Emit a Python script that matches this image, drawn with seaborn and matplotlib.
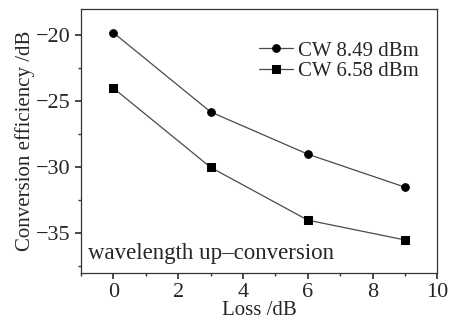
import numpy as np
import pandas as pd
import matplotlib
matplotlib.use("Agg")
import matplotlib.pyplot as plt
import seaborn as sns
from matplotlib.ticker import MultipleLocator

loss = [0, 3, 6, 9]
eff_849 = [-19.8, -25.8, -29.0, -31.5]
eff_658 = [-24.0, -30.0, -34.0, -35.5]
series = ["CW 8.49 dBm", "CW 6.58 dBm"]

df = pd.DataFrame({
    "loss": loss * 2,
    "eff": eff_849 + eff_658,
    "series": [series[0]] * len(loss) + [series[1]] * len(loss),
})

sns.set_theme(style="ticks")
plt.rcParams["font.family"] = ["Liberation Serif", "DejaVu Serif"]

fig, ax = plt.subplots(figsize=(4.58, 3.23), dpi=100)
sns.lineplot(data=df, x="loss", y="eff", hue="series", style="series",
             markers={series[0]: "o", series[1]: "s"}, dashes=False,
             palette={series[0]: "#4a4a4a", series[1]: "#4a4a4a"},
             markersize=5.5, linewidth=0.9, markerfacecolor="black",
             markeredgecolor="black", ax=ax)

ax.set_xlim(-1, 10)
ax.set_ylim(-38, -18)
ax.xaxis.set_major_locator(MultipleLocator(2))
ax.xaxis.set_minor_locator(MultipleLocator(1))
ax.yaxis.set_minor_locator(MultipleLocator(2.5))
ax.set_yticks([-20, -25, -30, -35])
ax.tick_params(which="both", direction="out", labelsize=16, color="#333333")
ax.tick_params(which="major", length=4)
ax.tick_params(which="minor", length=2.5)
for s in ax.spines.values():
    s.set_color("#333333")
    s.set_linewidth(0.9)

ax.set_xlabel("Loss /dB", fontsize=15, labelpad=-1)
ax.set_ylabel("Conversion efficiency /dB", fontsize=15, labelpad=1)
ax.text(0.02, 0.075, "wavelength up\u2013conversion", transform=ax.transAxes,
        fontsize=16.5, ha="left", va="center")

leg = ax.legend(loc="upper right", bbox_to_anchor=(1.0, 0.95), frameon=False,
                fontsize=15, handlelength=1.6, handletextpad=0.25,
                labelspacing=0.05, borderaxespad=0.5)

fig.subplots_adjust(left=0.177, right=0.955, top=0.972, bottom=0.155)
fig.savefig("out.png", dpi=100)
